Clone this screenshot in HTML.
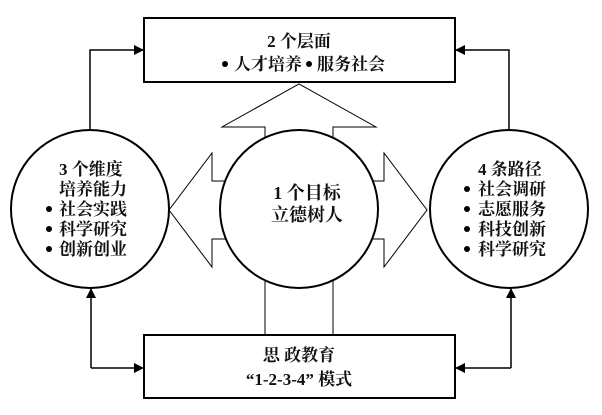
<!DOCTYPE html>
<html><head><meta charset="utf-8"><style>
html,body{margin:0;padding:0;background:#fff;}
svg{display:block;}
text{font-family:"Liberation Serif","Noto Serif CJK SC",serif;font-weight:bold;fill:#111;}
</style></head><body>
<svg width="602" height="415" viewBox="0 0 602 415" xmlns="http://www.w3.org/2000/svg">
<defs>
<marker id="ah" markerWidth="10" markerHeight="10" refX="9" refY="5" orient="auto" markerUnits="userSpaceOnUse">
<path d="M0,0 L10,5 L0,10 Z" fill="#000"/>
</marker>
</defs>
<g fill="none" stroke="#000" stroke-width="1">
<path d="M265,150 L265,127 L222,127 L299,84 L376,127 L333,127 L333,150"/>
<path d="M225,181 L212,181 L212,153 L169,210 L212,267 L212,239 L225,239"/>
<path d="M373,181 L384,181 L384,153 L427,210 L384,267 L384,239 L373,239"/>
<line x1="265" y1="270" x2="265" y2="335"/>
<line x1="333" y1="270" x2="333" y2="335"/>
</g>
<g fill="#fff" stroke="#000" stroke-width="2">
<rect x="144" y="18" width="311" height="64"/>
<rect x="144" y="335" width="311" height="63"/>
<circle cx="90" cy="209" r="79"/>
<circle cx="299" cy="209" r="79"/>
<circle cx="509" cy="209" r="79"/>
</g>
<g fill="none" stroke="#000" stroke-width="1.5">
<polyline points="90,130 90,50 143,50" marker-end="url(#ah)"/>
<polyline points="509,130 509,50 456,50" marker-end="url(#ah)"/>
<polyline points="91,368 143,368" marker-end="url(#ah)"/>
<polyline points="91,368 91,289" marker-end="url(#ah)"/>
<polyline points="511,368 456,368" marker-end="url(#ah)"/>
<polyline points="511,368 511,289" marker-end="url(#ah)"/>
</g>
<g font-size="17" text-anchor="middle">
<text x="299" y="47">2 个层面</text>
<text x="307" y="199" font-size="18">1 个目标</text>
<text x="307" y="221" font-size="18">立德树人</text>
<text x="299" y="361">思 政教育</text>
<text x="299" y="385">“1-2-3-4” 模式</text>
</g>
<g font-size="17">
<text x="234" y="70">人才培养</text>
<text x="317" y="70">服务社会</text>
</g>
<g fill="#000">
<circle cx="225" cy="64" r="3"/>
<circle cx="309" cy="64" r="3"/>
<circle cx="49" cy="209" r="3"/><circle cx="49" cy="229" r="3"/><circle cx="49" cy="249" r="3"/>
<circle cx="467" cy="189" r="3"/><circle cx="467" cy="209" r="3"/><circle cx="467" cy="229" r="3"/><circle cx="467" cy="249" r="3"/>
</g>
<g font-size="17">
<text x="59" y="175">3 个维度</text>
<text x="59" y="195">培养能力</text>
<text x="59" y="215">社会实践</text>
<text x="59" y="235">科学研究</text>
<text x="59" y="255">创新创业</text>
<text x="478" y="175">4 条路径</text>
<text x="478" y="195">社会调研</text>
<text x="478" y="215">志愿服务</text>
<text x="478" y="235">科技创新</text>
<text x="478" y="255">科学研究</text>
</g>
</svg>
</body></html>
